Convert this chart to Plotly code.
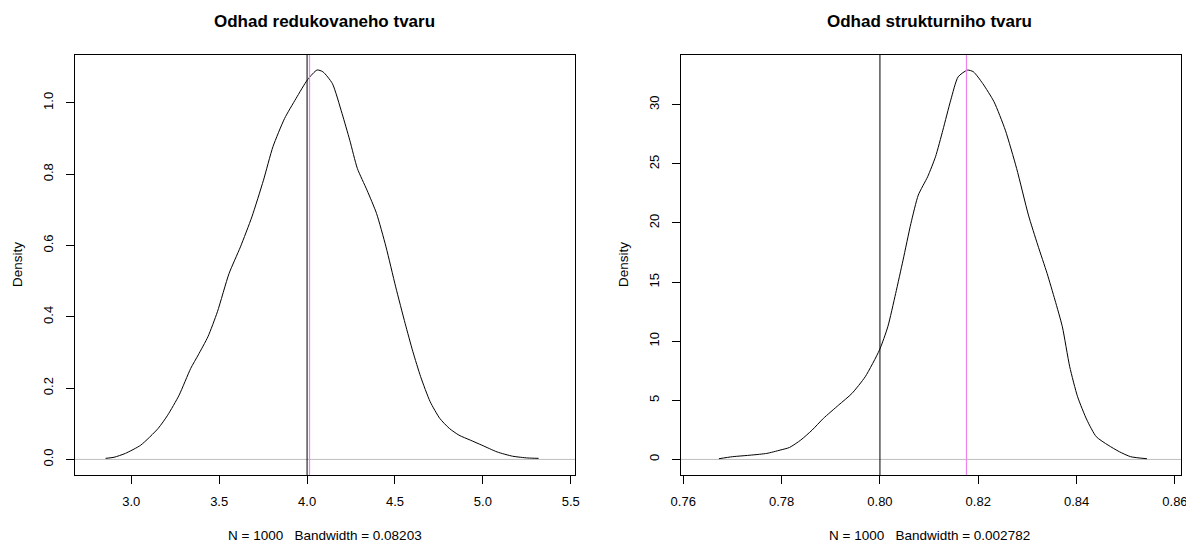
import plotly.graph_objects as go

# ---- data: left panel (reduced form estimate) ----
red_x = [2.854, 2.902, 2.967, 3.054, 3.153, 3.207, 3.272, 3.338, 3.381, 3.436, 3.490, 3.556, 3.621,
         3.686, 3.752, 3.806, 3.872, 3.937, 4.003, 4.057, 4.090, 4.144, 4.199, 4.243, 4.286, 4.341,
         4.395, 4.449, 4.504, 4.558, 4.602, 4.646, 4.700, 4.755, 4.809, 4.864, 4.929, 4.994, 5.081,
         5.169, 5.256, 5.317]
red_y = [0.003, 0.006, 0.017, 0.040, 0.087, 0.124, 0.180, 0.255, 0.293, 0.344, 0.414, 0.521, 0.596,
         0.680, 0.783, 0.877, 0.956, 1.012, 1.065, 1.092, 1.087, 1.054, 0.970, 0.895, 0.816, 0.755,
         0.690, 0.596, 0.484, 0.381, 0.302, 0.232, 0.162, 0.115, 0.087, 0.068, 0.054, 0.040, 0.021,
         0.009, 0.004, 0.003]
red_true = 4.0
red_mean = 4.014

# ---- data: right panel (structural form estimate) ----
str_x = [0.76725, 0.7700, 0.7739, 0.7770, 0.7797, 0.7816, 0.7839, 0.7862, 0.7885, 0.7916, 0.7943,
         0.7970, 0.7999, 0.8016, 0.8032, 0.8047, 0.8063, 0.8078, 0.8097, 0.8113, 0.8128, 0.8144,
         0.8159, 0.8178, 0.8190, 0.8209, 0.8232, 0.8255, 0.8278, 0.8302, 0.8321, 0.8340, 0.8356,
         0.8371, 0.8386, 0.8402, 0.8421, 0.8440, 0.8464, 0.8487, 0.8510, 0.8543]
str_y = [0.06, 0.23, 0.37, 0.51, 0.79, 1.01, 1.64, 2.48, 3.47, 4.60, 5.58, 6.99, 9.25, 11.22, 14.04,
         16.86, 19.96, 22.36, 23.91, 25.60, 27.85, 30.39, 32.36, 32.93, 32.79, 31.80, 30.25, 27.85,
         24.61, 20.67, 18.13, 15.73, 13.48, 11.22, 7.84, 5.30, 3.33, 1.92, 1.21, 0.65, 0.23, 0.06]
str_true = 0.80
str_mean = 0.8176

titles = ["Odhad redukovaneho tvaru", "Odhad strukturniho tvaru"]
xlabels = ["N = 1000   Bandwidth = 0.08203", "N = 1000   Bandwidth = 0.002782"]
ylabel = "Density"
x1_ticks = [3.0, 3.5, 4.0, 4.5, 5.0, 5.5]
x1_text = ["3.0", "3.5", "4.0", "4.5", "5.0", "5.5"]
y1_ticks = [0.0, 0.2, 0.4, 0.6, 0.8, 1.0]
y1_text = ["0.0", "0.2", "0.4", "0.6", "0.8", "1.0"]
x2_ticks = [0.76, 0.78, 0.80, 0.82, 0.84, 0.86]
x2_text = ["0.76", "0.78", "0.80", "0.82", "0.84", "0.86"]
y2_ticks = [0, 5, 10, 15, 20, 25, 30]
y2_text = ["0", "5", "10", "15", "20", "25", "30"]

# page body has an 8px margin: shift all page coordinates by 8
OFF = 8
W, H = 1194 - OFF, 545 - OFF
FONT = "Liberation Sans, Arial, sans-serif"

def px(x):
    return (x - OFF) / W

def py(y):
    return 1 - (y - OFF) / H

fig = go.Figure()

def add_panel(xs, ys, true_v, mean_v, xa, ya, xrng, yrng):
    fig.add_trace(go.Scatter(x=[xrng[0], xrng[1]], y=[0, 0], mode="lines",
                             line=dict(color="#bebebe", width=1), xaxis=xa, yaxis=ya,
                             showlegend=False, hoverinfo="skip"))
    fig.add_trace(go.Scatter(x=xs, y=ys, mode="lines",
                             line=dict(color="#000000", width=1, shape="spline", smoothing=0.6),
                             xaxis=xa, yaxis=ya, showlegend=False))
    fig.add_trace(go.Scatter(x=[true_v, true_v], y=[yrng[0], yrng[1]], mode="lines",
                             line=dict(color="#000000", width=1), xaxis=xa, yaxis=ya,
                             showlegend=False, hoverinfo="skip"))
    fig.add_trace(go.Scatter(x=[mean_v, mean_v], y=[yrng[0], yrng[1]], mode="lines",
                             line=dict(color="#ee82ee", width=1.2), xaxis=xa, yaxis=ya,
                             showlegend=False, hoverinfo="skip"))

xr1 = [2.68, 5.524]
yr1 = [-0.0437, 1.1355]
xr2 = [0.75954, 0.86123]
yr2 = [-1.317, 34.25]
add_panel(red_x, red_y, red_true, red_mean, "x", "y", xr1, yr1)
add_panel(str_x, str_y, str_true, str_mean, "x2", "y2", xr2, yr2)

ydom = [py(475), py(54.5)]
common = dict(showline=True, linecolor="#000000", linewidth=1, mirror=True, ticks="outside",
              ticklen=8, tickwidth=1, tickcolor="#000000", showgrid=False, zeroline=False,
              tickfont=dict(family=FONT, size=13, color="#000000"), tickmode="array",
              automargin=False)

fig.update_layout(
    width=W, height=H, margin=dict(l=0, r=0, t=0, b=0),
    paper_bgcolor="white", plot_bgcolor="white",
    xaxis=dict(common, domain=[px(75), px(575)], range=xr1, tickvals=x1_ticks, ticktext=x1_text,
               anchor="y", ticklabelstandoff=6),
    yaxis=dict(common, domain=ydom, range=yr1, tickvals=y1_ticks, ticktext=y1_text, anchor="x",
               tickangle=-90, ticklabelstandoff=8),
    xaxis2=dict(common, domain=[px(681), px(1181)], range=xr2, tickvals=x2_ticks, ticktext=x2_text,
                anchor="y2", ticklabelstandoff=6),
    yaxis2=dict(common, domain=ydom, range=yr2, tickvals=y2_ticks, ticktext=y2_text, anchor="x2",
                tickangle=-90, ticklabelstandoff=8),
)

annots = []
for cx, t, xl, yx in [(325, titles[0], xlabels[0], 17), (929, titles[1], xlabels[1], 623)]:
    annots.append(dict(x=px(cx), y=py(22), xref="paper", yref="paper", text="<b>" + t + "</b>",
                       showarrow=False, xanchor="center", yanchor="middle",
                       font=dict(family=FONT, size=17, color="#000000")))
    annots.append(dict(x=px(cx), y=py(535), xref="paper", yref="paper", text=xl,
                       showarrow=False, xanchor="center", yanchor="middle",
                       font=dict(family=FONT, size=13.5, color="#000000")))
    annots.append(dict(x=px(yx), y=py(265), xref="paper", yref="paper", text=ylabel,
                       showarrow=False, xanchor="center", yanchor="middle", textangle=-90,
                       font=dict(family=FONT, size=13.5, color="#000000")))
fig.update_layout(annotations=annots)

fig.write_html("out.html")
